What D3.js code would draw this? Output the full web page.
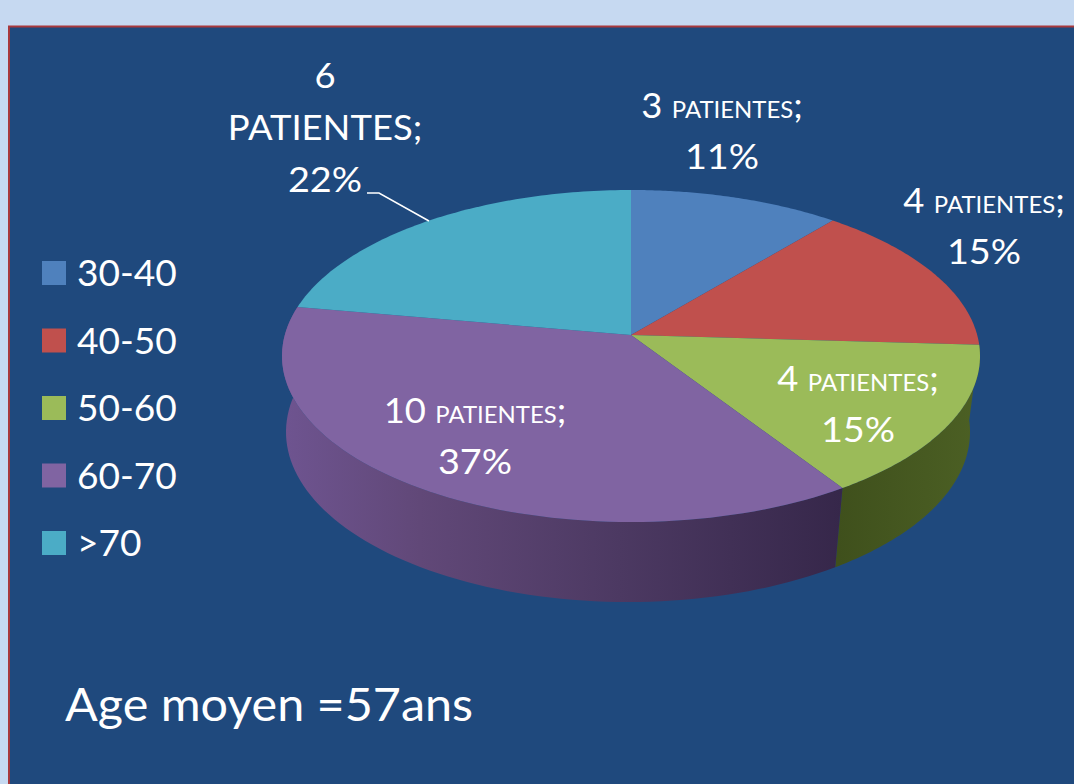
<!DOCTYPE html>
<html><head><meta charset="utf-8">
<style>html,body{margin:0;padding:0;background:#C6D9F1}svg{display:block}text{font-family:Lato,sans-serif;fill:#fff}</style>
<script src="https://cdnjs.cloudflare.com/ajax/libs/d3/7.8.5/d3.min.js"></script>
</head><body><svg id="c" width="1074" height="784"></svg>
<script>
const categories = ["30-40","40-50","50-60","60-70",">70"];
const patients = [3,4,4,10,6];
const percents = [11,15,15,37,22];
const colors = ["#4F81BD","#C0504D","#9BBB59","#8064A2","#4BACC6"];
const footnote = "Age moyen =57ans";

const svg = d3.select("#c");
svg.append("rect").attr("width",1074).attr("height",784).attr("fill","#C6D9F1");
svg.append("rect").attr("x",9).attr("y",26.5).attr("width",1080).attr("height",780)
  .attr("fill","#1F497D").attr("stroke","#A8383C").attr("stroke-width",2);

const color = d3.scaleOrdinal(categories, colors);
const pie = d3.pie().sort(null)(patients);

// Perspective projection of the pie
const upper = {cx:631, cy:356, rx:349, ry:166};
const base = {cx:628, cy:432, rx:342, ry:170};
const apex = {x:631, y:335}, k = 0.476;
function rim(theta){
  const dx = Math.sin(theta), dy = -Math.cos(theta)*k;
  const ox = (apex.x-upper.cx)/upper.rx, oy = (apex.y-upper.cy)/upper.ry;
  const ux = dx/upper.rx, uy = dy/upper.ry;
  const a = ux*ux+uy*uy, b = 2*(ox*ux+oy*uy), c = ox*ox+oy*oy-1;
  const t = (-b+Math.sqrt(b*b-4*a*c))/(2*a);
  return [apex.x+t*dx, apex.y+t*dy];
}
function lower(p){
  return [base.cx+(p[0]-upper.cx)/upper.rx*base.rx, base.cy+(p[1]-upper.cy)/upper.ry*base.ry];
}
const samples = (a,b)=>d3.range(0,81).map(i=>a+(b-a)*i/80);
const line = d3.line().curve(d3.curveLinear);

const defs = svg.append("defs");
const wallGrad = {
  "50-60":[[838,"#3F501C"],[980,"#4C6024"]],
  "60-70":[[284,"#6E5490"],[420,"#614878"],[620,"#4C3962"],[842,"#36274A"]]
};
Object.entries(wallGrad).forEach(([cat,stops],i)=>{
  const g = defs.append("linearGradient").attr("id","wall"+i).attr("gradientUnits","userSpaceOnUse")
    .attr("x1",stops[0][0]).attr("x2",stops[stops.length-1][0]).attr("y1",0).attr("y2",0);
  stops.forEach(s=>g.append("stop").attr("offset",(s[0]-stops[0][0])/(stops[stops.length-1][0]-stops[0][0])).attr("stop-color",s[1]));
});

// walls
Object.keys(wallGrad).forEach((cat,i)=>{
  const d = pie[categories.indexOf(cat)];
  const up = samples(d.startAngle,d.endAngle).map(rim);
  svg.append("path").attr("d",line(up.concat(up.map(lower).reverse()))+"Z").attr("fill",`url(#wall${i})`);
});
// top faces
svg.selectAll("path.face").data(pie).join("path").attr("class","face")
  .attr("d",d=>line([[apex.x,apex.y]].concat(samples(d.startAngle,d.endAngle).map(rim)))+"Z")
  .attr("fill",(d,i)=>color(categories[i]));

// text helper: Lato stretched horizontally to the wider look of the reference face
const stretched = (x,y,size,f,anchor="middle") => svg.append("text")
  .attr("transform",`translate(${x},${y}) scale(${f},1)`).attr("text-anchor",anchor).attr("font-size",size);

// legend
const ly = d3.scalePoint().domain(categories).range([273,543]);
categories.forEach(c=>{
  svg.append("rect").attr("x",42).attr("y",ly(c)-12).attr("width",24).attr("height",24).attr("fill",color(c));
  stretched(77,ly(c)+13,36,1.03,"start").text(c);
});

// data labels
const labelPos = [[722,118],[984,213],[858,391],[475,423],null];
patients.forEach((n,i)=>{
  if(!labelPos[i]) return;
  const [x,y]=labelPos[i];
  const t = stretched(x,y,35,1.04);
  t.append("tspan").text(n+" ");
  t.append("tspan").attr("font-size",23).text("PATIENTES");
  t.append("tspan").text(";");
  stretched(x,y+51,35,1.08).text(percents[i]+"%");
});
// outside label with leader
const last = patients.length-1;
[[patients[last],88,1.04],["PATIENTES;",140,1.04],[percents[last]+"%",192,1.08]].forEach(([s,y,f])=>
  stretched(325,y,35,f).text(s));
svg.append("path").attr("d",line([[367,193],[379,193],[429,221]])).attr("fill","none").attr("stroke","#fff").attr("stroke-width",1.5);

stretched(65,721,46,1.054,"start").text(footnote);
</script></body></html>
